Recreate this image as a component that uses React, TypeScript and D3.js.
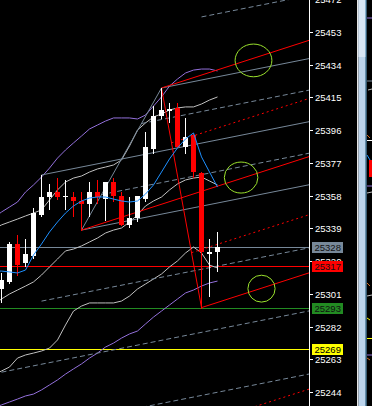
import React from 'react';
import * as d3 from 'd3';

// ---------- DATA ----------
const candleOpen = [25304, 25308, 25330, 25319, 25323, 25347, 25357, 25360, 25357, 25357, 25355, 25353, 25360, 25356, 25366, 25358, 25341, 25345, 25356, 25385, 25404, 25407, 25409, 25386, 25393, 25371, 25324, 25325];
const candleHigh = [25313, 25331, 25335, 25333, 25351, 25370, 25365, 25368, 25367, 25360, 25360, 25366, 25367, 25366, 25368, 25360, 25357, 25358, 25395, 25410, 25420.5, 25412, 25412, 25403, 25394, 25372, 25333, 25337];
const candleLow = [25296, 25307, 25312, 25317, 25322, 25346, 25350, 25356, 25350, 25346, 25338, 25346, 25354, 25344, 25355, 25341, 25340, 25343, 25355, 25383, 25403, 25401, 25386, 25383, 25369, 25293, 25300, 25314];
const candleClose = [25309, 25330, 25318, 25324, 25348, 25357, 25360, 25357, 25357.5, 25355, 25353, 25360, 25357, 25366, 25358, 25341, 25345, 25358, 25386, 25404, 25408, 25408.5, 25386, 25392, 25372, 25325, 25325, 25328];

// indicator series, first value belongs to bar index -1
const outerUpper = [25345.0, 25348.5, 25351.4, 25354.3, 25360.1, 25364.2, 25368.8, 25374.0, 25379.8, 25384.5, 25388.6, 25392.6, 25396.7, 25399.0, 25401.3, 25403.1, 25403.1, 25403.1, 25402.5, 25404.8, 25410.0, 25415.3, 25421.6, 25425.7, 25429.2, 25430.9, 25431.5, 25431.5, 25430.4];
const outerLower = [25234.7, 25236.5, 25238.2, 25239.9, 25241.7, 25242.8, 25245.2, 25248.1, 25251.0, 25254.4, 25257.4, 25260.3, 25263.7, 25266.6, 25270.1, 25272.4, 25275.3, 25277.7, 25279.4, 25283.5, 25287.5, 25291.0, 25294.5, 25298.0, 25301.5, 25303.2, 25305.5, 25307.3, 25308.4];
const bandUpper = [25338.6, 25341.0, 25342.7, 25344.4, 25346.2, 25347.9, 25349.7, 25355.5, 25361.3, 25365.9, 25368.2, 25369.4, 25371.7, 25373.5, 25374.6, 25375.8, 25378.7, 25386.8, 25396.1, 25400.2, 25403.7, 25405.4, 25407.7, 25408.9, 25409.5, 25409.5, 25411.2, 25413.5, 25415.3];
const bandMiddle = [25294.5, 25298.0, 25300.9, 25303.2, 25305.5, 25307.9, 25311.9, 25316.6, 25321.2, 25325.9, 25327.0, 25328.8, 25331.1, 25333.4, 25336.3, 25338.0, 25339.2, 25342.7, 25346.8, 25352.0, 25354.9, 25357.2, 25361.3, 25364.8, 25367.1, 25368.2, 25368.8, 25366.5, 25364.2];
const bandLower = [25253.9, 25256.2, 25258.5, 25263.7, 25265.5, 25266.6, 25267.8, 25269.5, 25274.2, 25282.9, 25291.0, 25293.9, 25295.7, 25295.7, 25295.7, 25295.7, 25296.8, 25299.7, 25303.8, 25306.7, 25309.6, 25312.5, 25316.6, 25320.1, 25324.7, 25328.2, 25324.7, 25317.7, 25316.0];
const movingAvg = [25314.2, 25314.2, 25313.7, 25313.1, 25314.8, 25323.5, 25329.9, 25336.9, 25342.7, 25347.9, 25352.0, 25354.9, 25356.6, 25357.2, 25357.2, 25356.0, 25354.9, 25354.3, 25354.9, 25358.9, 25364.2, 25371.7, 25379.3, 25385.7, 25390.9, 25394.4, 25380.5, 25371.7, 25363.0];

const priceTicks = [25472, 25453, 25434, 25415, 25396, 25377, 25358, 25339, 25320, 25301, 25282, 25263, 25244];
const markerPrices = [25328, 25317, 25293, 25269];

// pitchfork pivots: [bar index, which price]
const forkSlateBars = [5, 10, 20];
const forkSlatePrices = [25370, 25338, 25420.5];
const forkRedBars = [10, 20, 25];
const forkRedPrices = [25338, 25420.5, 25293];
const forkLevels = [0.5, 1, 2, 3, 4];

const ellipseBar = [31.5, 29.95, 32.5];
const ellipsePrice = [25436.5, 25368.5, 25304];
const ellipseBarRadius = [2.3, 2.1, 1.7];
const ellipsePriceRadius = [9.5, 9, 7.8];

// ---------- STYLE ----------
const W = 372, H = 406, AXIS_X = 309;
const markerStyle = [
  { bg: '#778899', line: '#778899', fg: '#111' },
  { bg: '#ff0000', line: '#ff0000', fg: '#111' },
  { bg: '#228b22', line: '#228b22', fg: '#111' },
  { bg: '#ffff00', line: '#ffff00', fg: '#000' },
];

const xs = d3.scaleLinear().domain([0, 1]).range([1.5, 9.5]);
const ys = d3.scaleLinear().domain([25244, 25453]).range([392, 32]);

function seriesPath(vals: number[]) {
  const line = d3.line<number>().x((_, i) => xs(i - 1)).y((v) => ys(v));
  return line(vals) || '';
}

type P = [number, number];
function ray(p: P, d: P): string {
  const t = (330 - p[0]) / d[0];
  return `M${p[0]},${p[1]}L${p[0] + d[0] * t},${p[1] + d[1] * t}`;
}

function pitchfork(bars: number[], prices: number[], color: string, dash: string, key: string) {
  const pts: P[] = bars.map((b, i) => [xs(b), ys(prices[i])]);
  const [A, B, C] = pts;
  const M: P = [(B[0] + C[0]) / 2, (B[1] + C[1]) / 2];
  const d: P = [M[0] - A[0], M[1] - A[1]];
  const els: JSX.Element[] = [];
  els.push(<path key={key + 'm'} d={ray(A, d)} stroke={color} fill="none" />);
  els.push(<path key={key + 'bc'} d={`M${B[0]},${B[1]}L${C[0]},${C[1]}`} stroke={color} fill="none" />);
  forkLevels.forEach((l) => {
    [B, C].forEach((Q, j) => {
      const s: P = [M[0] + l * (Q[0] - M[0]), M[1] + l * (Q[1] - M[1])];
      els.push(
        <path key={key + l + '_' + j} d={ray(s, d)} stroke={color} fill="none"
          strokeDasharray={l === 1 ? undefined : dash} />
      );
    });
  });
  return els;
}

export default function App() {
  const font = "'Liberation Sans', Arial, sans-serif";
  return (
    <svg width={W} height={H} style={{ position: 'absolute', left: 0, top: 0, background: '#000' }}>
      <rect x={0} y={0} width={W} height={H} fill="#000" />
      <defs>
        <clipPath id="plot"><rect x={0} y={0} width={AXIS_X} height={H} /></clipPath>
      </defs>
      <g clipPath="url(#plot)">
        {/* horizontal price lines */}
        {markerPrices.map((p, i) => (
          <line key={'h' + i} x1={0} x2={AXIS_X} y1={Math.round(ys(p)) + 0.5} y2={Math.round(ys(p)) + 0.5}
            stroke={markerStyle[i].line} strokeWidth={1} />
        ))}
        {/* bands */}
        <path d={seriesPath(outerUpper)} stroke="#9370db" fill="none" />
        <path d={seriesPath(outerLower)} stroke="#9370db" fill="none" />
        <path d={seriesPath(bandUpper)} stroke="#c0c0c0" fill="none" />
        <path d={seriesPath(bandMiddle)} stroke="#c0c0c0" fill="none" />
        <path d={seriesPath(bandLower)} stroke="#c0c0c0" fill="none" />
        {/* pitchforks */}
        {pitchfork(forkSlateBars, forkSlatePrices, '#778899', '5,3', 's')}
        {pitchfork(forkRedBars, forkRedPrices, '#ff0000', '2,3', 'r')}
        {/* candles */}
        {candleOpen.map((o, i) => {
          const c = candleClose[i];
          const up = c >= o;
          const col = up ? '#ffffff' : '#ff0000';
          const cx = xs(i);
          const yTop = Math.round(ys(Math.max(o, c)));
          const yBot = Math.round(ys(Math.min(o, c)));
          const yH = Math.round(ys(candleHigh[i]));
          const yL = Math.round(ys(candleLow[i]));
          return (
            <g key={'c' + i} shapeRendering="crispEdges">
              <rect x={cx - 0.5} y={yH} width={1} height={yL - yH + 1} fill={col} />
              <rect x={cx - 2.5} y={yTop} width={5} height={Math.max(1, yBot - yTop)} fill={col} />
            </g>
          );
        })}
        {/* moving average */}
        <path d={seriesPath(movingAvg)} stroke="#1e90ff" fill="none" />
        {/* ellipses */}
        {ellipseBar.map((b, i) => (
          <ellipse key={'e' + i} cx={xs(b)} cy={ys(ellipsePrice[i])}
            rx={xs(ellipseBarRadius[i]) - xs(0)} ry={ys(0) - ys(ellipsePriceRadius[i])}
            stroke="#9be22d" fill="none" strokeWidth={1} />
        ))}
      </g>
      {/* price axis */}
      <line x1={AXIS_X + 0.5} x2={AXIS_X + 0.5} y1={0} y2={H} stroke="#fff" />
      {priceTicks.map((p) => {
        const y = Math.round(ys(p));
        return (
          <g key={'t' + p}>
            <line x1={AXIS_X} x2={AXIS_X + 4} y1={y + 0.5} y2={y + 0.5} stroke="#fff" />
            <text x={315} y={y + 3.5} fill="#fff" fontSize={9.5} fontFamily={font}>{p}</text>
          </g>
        );
      })}
      {markerPrices.map((p, i) => {
        const y = Math.round(ys(p));
        return (
          <g key={'m' + i}>
            <rect x={312} y={y - 5} width={31} height={11} fill={markerStyle[i].bg} />
            <text x={314.5} y={y + 4} fill={markerStyle[i].fg} fontSize={9.5} fontFamily={font}>{p}</text>
          </g>
        );
      })}
      {/* window chrome on the right */}
      <rect x={357} y={0} width={1.5} height={H} fill="#e6e6e6" />
      <rect x={358.5} y={0} width={7} height={H} fill="#bcd4ec" />
      <rect x={358.5} y={0} width={7} height={57} fill="#d8e6f5" />
      <rect x={365.5} y={0} width={1} height={H} fill="#6fb4e2" />
      <g strokeWidth={1}>
        <line x1={367} x2={372} y1={18} y2={18} stroke="#9370db" />
        <line x1={367} x2={372} y1={81} y2={81} stroke="#778899" />
        <line x1={368} x2={372} y1={90} y2={89} stroke="#c0c0c0" />
        <line x1={367} x2={370} y1={135} y2={138} stroke="#d2691e" />
        <line x1={367} x2={372} y1={140.5} y2={140.5} stroke="#fff" />
        <line x1={367} x2={370} y1={155} y2={160} stroke="#1e90ff" />
        <rect x={369} y={160} width={3} height={17} fill="#ff0000" />
        <line x1={367} x2={372} y1={186} y2={186} stroke="#9370db" />
        <line x1={367} x2={372} y1={193} y2={192} stroke="#c0c0c0" />
        <line x1={367} x2={370} y1={283} y2={286} stroke="#d2691e" />
        <line x1={367} x2={372} y1={296} y2={295} stroke="#c0c0c0" />
        <line x1={367} x2={370} y1={318} y2={320} stroke="#ffff00" />
        <line x1={367} x2={372} y1={338.5} y2={338.5} stroke="#ffff00" />
        <line x1={367} x2={372} y1={355} y2={355} stroke="#9370db" />
        <line x1={367} x2={370} y1={358} y2={360} stroke="#d2691e" />
      </g>
    </svg>
  );
}
